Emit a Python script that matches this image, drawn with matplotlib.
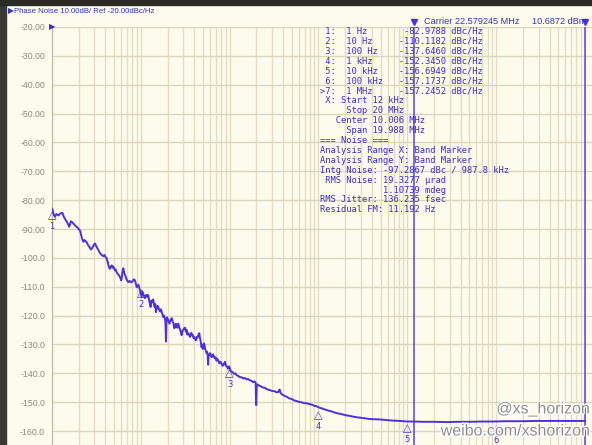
import matplotlib
matplotlib.use("Agg")
import matplotlib.pyplot as plt
import matplotlib.patheffects as pe
from matplotlib.patches import Rectangle
import matplotlib.transforms as mtransforms

# trace (Hz, dBc/Hz)
freq_hz = [1.0, 1.02, 1.05, 1.08, 1.12, 1.18, 1.24, 1.31, 1.36, 1.42, 1.48, 1.52, 1.56, 1.59, 1.63,
           1.67, 1.75, 1.85, 1.95, 2.07, 2.12, 2.18, 2.25, 2.32, 2.38, 2.46, 2.55, 2.66, 2.75, 2.80,
           2.92, 3.0, 3.05, 3.18, 3.3, 3.45, 3.62, 3.78, 3.9, 4.02, 4.13, 4.25, 4.37, 4.49, 4.6,
           4.7, 4.8, 4.9, 5.0, 5.1, 5.2, 5.35, 5.5, 5.7, 5.9, 6.0, 6.09, 6.2, 6.35, 6.5,
           6.7, 6.9, 7.05, 7.22, 7.5, 7.8, 8.1, 8.35, 8.59, 8.8, 9.0, 9.2, 9.4, 9.6, 9.76,
           10.0, 10.2, 10.4, 10.6, 10.85, 11.1, 11.35, 11.6, 11.85, 12.1, 12.5, 12.9, 13.1, 13.4, 13.6,
           13.8, 14.05, 14.3, 14.55, 14.8, 15.0, 15.2, 15.45, 15.7, 16.1, 16.5, 16.85, 17.2, 17.55, 17.9,
           18.25, 18.6, 18.9, 19.2, 19.45, 19.7, 20.3, 21.0, 21.6, 22.3, 22.8, 23.3, 23.8, 24.3, 24.8,
           25.3, 25.8, 26.4, 27.0, 27.5, 28.1, 28.8, 29.4, 30.0, 30.7, 31.5, 32.2, 32.8, 33.4, 34.0,
           34.8, 35.7, 36.4, 37.2, 37.8, 38.5, 39.2, 40.0, 40.8, 41.7, 42.6, 43.5, 44.5, 45.5, 46.2,
           47.0, 47.7, 48.3, 49.0, 50.0, 50.8, 51.5, 52.2, 53.0, 54.0, 55.0, 55.8, 56.5, 57.2, 57.8,
           59.0, 60.2, 61.5, 62.9, 64.0, 65.0, 66.5, 68.0, 69.5, 71.0, 72.5, 74.0, 75.5, 77.0, 79.0,
           81.0, 83.0, 85.0, 87.0, 88.7, 90.5, 92.0, 94.0, 96.0, 98.0, 100, 102, 105, 108, 112,
           116, 120, 125, 131, 136, 142, 148, 155, 162, 169, 176, 184, 190, 196, 199,
           202, 206, 212, 222, 235, 248, 262, 280, 300, 320, 340, 355, 365, 372, 386,
           405, 420, 445, 470, 500, 535, 567, 600, 640, 680, 740, 802, 850, 900, 950,
           1000, 1100, 1250, 1400, 1600, 1800, 2000, 2200, 2450, 2800, 3200, 3700, 4160, 5000, 5900,
           6960, 8300, 9840, 12000, 15000, 20000, 28000, 38000, 50000, 70000, 92000, 130000, 200000, 280000, 370000,
           480000, 600000, 730000, 870000, 1000000]
noise_db = [-83.0, -83.6, -85.2, -85.7, -84.8, -85.3, -84.6, -84.4, -85.8, -86.8, -87.6, -88.4, -89.2, -88.6, -87.3,
            -87.5, -88.2, -89.0, -89.6, -90.6, -91.8, -93.4, -94.4, -93.8, -94.2, -94.6, -95.6, -96.4, -97.1, -96.8,
            -95.9, -95.2, -95.0, -96.2, -97.1, -98.2, -99.0, -99.4, -99.0, -99.8, -100.2, -101.6, -103.2, -103.8, -103.0,
            -102.6, -103.4, -103.0, -103.6, -104.3, -104.0, -105.0, -105.6, -106.1, -107.0, -107.8, -107.2, -105.0, -103.6, -105.2,
            -106.2, -107.4, -107.9, -108.4, -108.0, -108.5, -108.1, -107.4, -107.8, -109.0, -110.2, -109.6, -109.3, -110.4, -111.1,
            -112.4, -113.6, -111.6, -112.3, -113.2, -114.0, -113.1, -112.8, -113.6, -112.9, -115.2, -117.0, -114.8, -115.4, -114.6,
            -114.4, -116.2, -117.0, -116.0, -118.8, -117.0, -117.6, -116.6, -117.0, -118.0, -118.6, -117.8, -118.8, -119.5, -120.5,
            -120.0, -121.0, -122.0, -129.0, -122.0, -120.6, -121.5, -122.8, -121.6, -120.9, -122.0, -122.6, -124.4, -123.9, -122.8,
            -123.2, -124.2, -122.8, -124.0, -124.6, -125.5, -126.8, -125.4, -125.0, -124.4, -124.2, -125.6, -125.0, -126.6, -126.0,
            -126.5, -127.4, -126.4, -126.0, -127.0, -126.8, -127.8, -127.5, -128.2, -128.6, -127.4, -127.6, -126.6, -126.1, -127.6,
            -128.6, -129.8, -131.0, -130.0, -131.6, -130.4, -129.6, -130.4, -131.6, -132.2, -133.0, -132.6, -133.6, -137.0, -134.2,
            -133.4, -133.0, -134.0, -134.4, -133.8, -133.4, -134.2, -134.8, -134.4, -135.6, -135.0, -135.4, -136.2, -136.6, -136.0,
            -136.6, -137.4, -137.2, -136.4, -136.0, -137.2, -137.6, -137.8, -138.4, -137.6, -138.0, -139.0, -139.4, -139.6, -140.2,
            -140.0, -140.7, -140.9, -141.4, -141.3, -141.8, -141.6, -142.1, -142.0, -142.4, -142.6, -143.1, -142.8, -143.2, -151.0,
            -144.2, -143.8, -144.2, -144.4, -144.9, -145.0, -145.5, -145.8, -146.1, -146.2, -146.6, -146.4, -145.6, -146.6, -147.3,
            -147.6, -147.9, -148.2, -148.7, -148.9, -149.4, -149.6, -149.9, -150.0, -150.3, -150.4, -150.7, -150.9, -151.3, -151.4,
            -151.8, -152.2, -152.8, -153.2, -153.8, -154.1, -154.5, -154.7, -155.0, -155.3, -155.5, -155.8, -155.9, -156.0, -156.2,
            -156.4, -156.5, -156.7, -156.7, -156.8, -156.8, -156.9, -156.8, -156.8, -156.7, -156.7, -156.6, -156.6, -156.5, -156.5,
            -156.5, -156.5, -156.5, -156.5, -156.5]

marker_freq = [1, 10, 100, 1e3, 1e4, 1e5, 1e6]
marker_label = ["1 Hz", "10 Hz", "100 Hz", "1 kHz", "10 kHz", "100 kHz", "1 MHz"]
marker_db = [-82.9788, -110.1182, -137.6460, -152.3450, -156.6949, -157.1737, -157.2452]

band_start = 12e3
band_stop = 1e6
y_ticks = [-20, -30, -40, -50, -60, -70, -80, -90, -100, -110, -120, -130, -140, -150, -160]

info_lines = [
    " X: Start 12 kHz",
    "     Stop 20 MHz",
    "   Center 10.006 MHz",
    "     Span 19.988 MHz",
    "=== Noise ===",
    "Analysis Range X: Band Marker",
    "Analysis Range Y: Band Marker",
    "Intg Noise: -97.2867 dBc / 987.8 kHz",
    " RMS Noise: 19.3277 \u00b5rad",
    "            1.10739 mdeg",
    "RMS Jitter: 136.235 fsec",
    "Residual FM: 11.192 Hz",
]

W, H = 592, 445
bg = "#fcfbec"
grid_c = "#e4ddc4"
trace_c = "#4f30dc"
text_c = "#3b2bd0"

fig = plt.figure(figsize=(W / 100, H / 100), dpi=100)
fig.patch.set_facecolor(bg)
ax = fig.add_axes([52 / W, 0, 540 / W, 418 / H])
ax.set_facecolor(bg)
ax.set_xscale("log")
ax.set_xlim(1, 10 ** (540 / 88.83))
ax.set_ylim(-20 - 418 / 2.886, -20)

ax.set_yticks(y_ticks)
ax.set_yticklabels(["%.2f" % v if v > -100 else "%.1f" % v for v in y_ticks],
                   fontsize=6.3, color="#8c8a80", family="Liberation Sans")
ax.tick_params(axis="y", length=0, pad=5)
ax.tick_params(axis="x", which="both", length=0, labelbottom=False)
for s in ["top", "right", "bottom"]:
    ax.spines[s].set_visible(False)
ax.spines["left"].set_color("#bdb9a4")
ax.grid(True, which="both", axis="x", color=grid_c, lw=1.0)
ax.grid(True, which="major", axis="y", color="#dcd5b9", lw=1.0)
ax.set_axisbelow(True)

ax.plot(freq_hz, noise_db, color=trace_c, lw=1.4, zorder=3)

# band marker lines
top = mtransforms.blended_transform_factory(ax.transData, ax.transAxes)
for f in [band_start, band_stop]:
    ax.axvline(f, color="#6650e6", lw=1.2, zorder=2)
    ax.plot([f], [1.012], marker="v", color="#4a30d8", ms=4, transform=top, clip_on=False)

# numbered markers (7's number is off the bottom of the screen)
for i, (f, v) in enumerate(zip(marker_freq, marker_db)):
    ax.annotate("\u25b3", (f, v), xytext=(0, -4.8), textcoords="offset points",
                ha="center", va="center", fontsize=8, color=trace_c, zorder=4)
    if i < 6:
        ax.annotate(str(i + 1), (f, v), xytext=(0, -12.8), textcoords="offset points",
                    ha="center", va="center", fontsize=6, color=trace_c, zorder=4)

# header texts
fig.text(8 / W, 1 - 12 / H, "\u25b6Phase Noise 10.00dB/ Ref -20.00dBc/Hz", fontsize=5.6,
         color="#3232c8", va="center", family=["Liberation Sans", "DejaVu Sans"])
fig.text(49 / W, 1 - 27 / H, "\u25b6", fontsize=6, color="#3232c8", va="center")
fig.text(424 / W, 1 - 22 / H, "Carrier 22.579245 MHz", fontsize=6.6, color="#3232c8",
         va="center", family="Liberation Sans")
fig.text(532 / W, 1 - 22 / H, "10.6872 dBm", fontsize=6.6, color="#3232c8",
         va="center", family="Liberation Sans")

# marker table
mono = dict(fontsize=6.35, color=text_c, family="DejaVu Sans Mono", va="center")
rows = []
for i, (lab, v) in enumerate(zip(marker_label, marker_db)):
    idx = ("%d:" % (i + 1)).rjust(3)
    if i == len(marker_label) - 1:
        idx = ">%d:" % (i + 1)
    rows.append("%s  %-9s%10.4f dBc/Hz" % (idx, lab, v))
rows += info_lines
for k, line in enumerate(rows):
    fig.text(320 / W, 1 - (31 + k * 9.94) / H, line, **mono)

# dark frame edges
fig.add_artist(Rectangle((0, 0), 6 / W, 1, transform=fig.transFigure, color="#3a3a34", zorder=10))
fig.add_artist(Rectangle((0, 1 - 5 / H), 1, 5 / H, transform=fig.transFigure, color="#2a2a26", zorder=10))

# watermark
stroke = [pe.withStroke(linewidth=2, foreground="white")]
fig.text(590 / W, 1 - 409 / H, "@xs_horizon", fontsize=11.5, color="#8e8e8e", ha="right",
         va="center", family="Liberation Sans", path_effects=stroke)
fig.text(590 / W, 1 - 431 / H, "weibo.com/xshorizon", fontsize=11.5, color="#8e8e8e", ha="right",
         va="center", family="Liberation Sans", path_effects=stroke)

fig.savefig("out.png", dpi=100, facecolor=bg)
